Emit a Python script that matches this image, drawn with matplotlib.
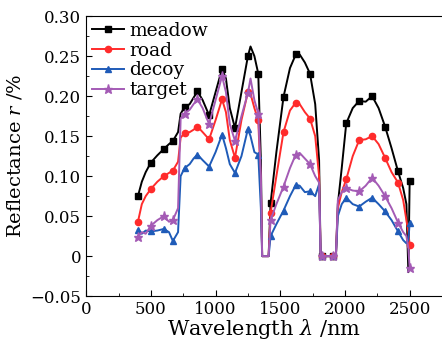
import matplotlib
matplotlib.use("Agg")
import matplotlib.pyplot as plt
from matplotlib.ticker import MultipleLocator, FixedLocator, FixedFormatter

wavelength = [400, 430, 460, 500, 550, 600, 640, 670, 710, 730, 760, 800, 830, 860, 900, 950,
              1000, 1050, 1080, 1110, 1150, 1200, 1250, 1270, 1300, 1330, 1350, 1360, 1410,
              1425, 1470, 1525, 1575, 1620, 1650, 1690, 1730, 1770, 1800, 1812, 1825, 1910,
              1930, 1945, 1975, 2010, 2060, 2110, 2160, 2210, 2260, 2310, 2360, 2410, 2450,
              2475, 2490, 2500]

meadow = [.075, .093, .105, .117, .126, .134, .140, .144, .155, .178, .186, .190, .198, .206,
          .195, .176, .205, .234, .222, .185, .160, .205, .250, .262, .250, .228, .120, 0, 0,
          .066, .130, .199, .235, .252, .252, .242, .228, .190, .120, 0, 0, 0,
          0, .065, .110, .166, .185, .194, .193, .200, .185, .162, .135, .106, .085,
          .065, -.020, .094]

road = [.043, .065, .075, .084, .093, .100, .104, .107, .118, .148, .154, .155, .158, .162,
        .155, .146, .170, .196, .180, .145, .123, .170, .205, .203, .185, .170, .090, 0, 0,
        .054, .100, .155, .182, .192, .190, .180, .172, .150, .100, 0, 0, 0,
        0, .060, .080, .096, .125, .145, .146, .150, .140, .123, .105, .092, .070,
        .045, .030, .014]

decoy = [.033, .028, .032, .031, .032, .034, .030, .019, .030, .100, .110, .115, .122, .127,
         .120, .112, .130, .152, .135, .115, .104, .125, .159, .150, .130, .127, .060, 0, 0,
         .025, .040, .057, .075, .089, .088, .080, .081, .075, .090, 0, 0, 0,
         0, .050, .065, .073, .065, .062, .068, .073, .065, .056, .045, .031, .020,
         .016, .020, .041]

target = [.024, .030, .028, .038, .045, .050, .043, .045, .060, .172, .178, .183, .190, .196,
          .185, .165, .195, .225, .205, .165, .144, .175, .204, .222, .195, .178, .100, 0, 0,
          .045, .065, .087, .110, .127, .129, .122, .115, .100, .092, 0, 0, 0,
          0, .070, .080, .085, .082, .081, .088, .098, .088, .075, .060, .042, .030,
          .025, .010, -.015]

marker_wl = [400, 500, 600, 670, 760, 860, 950, 1050, 1150, 1250, 1330, 1425, 1525, 1620,
             1730, 1825, 1910, 2010, 2110, 2210, 2310, 2410, 2500]

series_names = ["meadow", "road", "decoy", "target"]
x_ticks = [0, 500, 1000, 1500, 2000, 2500]
y_ticks = [-0.05, 0, 0.05, 0.10, 0.15, 0.20, 0.25, 0.30]
y_tick_labels = ["\u22120.05", "0", "0.05", "0.10", "0.15", "0.20", "0.25", "0.30"]

plt.rcParams['font.family'] = ['DejaVu Serif']
plt.rcParams['mathtext.fontset'] = 'dejavuserif'

fig = plt.figure(figsize=(4.42, 3.42), dpi=100)
ax = fig.add_axes([0.195, 0.134, 0.805, 0.819])

marks = [wavelength.index(w) for w in marker_wl]
styles = [
    dict(color='black', marker='s', ms=4.2),
    dict(color='#ff2b2b', marker='o', ms=4.5),
    dict(color='#1f5bb8', marker='^', ms=5),
    dict(color='#a45bb5', marker='*', ms=6.5),
]
for name, vals, st in zip(series_names, [meadow, road, decoy, target], styles):
    ax.plot(wavelength, vals, lw=1.4, markevery=marks, label=name, **st)

ax.set_xlim(0, 2750)
ax.set_ylim(-0.05, 0.30)
ax.xaxis.set_major_locator(FixedLocator(x_ticks))
ax.xaxis.set_minor_locator(MultipleLocator(250))
ax.yaxis.set_major_locator(FixedLocator(y_ticks))
ax.yaxis.set_major_formatter(FixedFormatter(y_tick_labels))
ax.yaxis.set_minor_locator(MultipleLocator(0.025))
ax.tick_params(which='both', direction='in', labelsize=12)
ax.tick_params(which='major', length=4)
ax.tick_params(which='minor', length=2)
ax.spines['right'].set_visible(False)

ax.set_xlabel(r"Wavelength $\lambda$ /nm", fontsize=15, labelpad=-1)
ax.set_ylabel(r"Reflectance $r$ /%", fontsize=14, labelpad=4)

ax.legend(loc='upper left', frameon=False, fontsize=13.5, handlelength=1.7,
          handletextpad=0.3, labelspacing=0.1, borderaxespad=0.1, borderpad=0.2)

fig.savefig("out.png", dpi=100)
